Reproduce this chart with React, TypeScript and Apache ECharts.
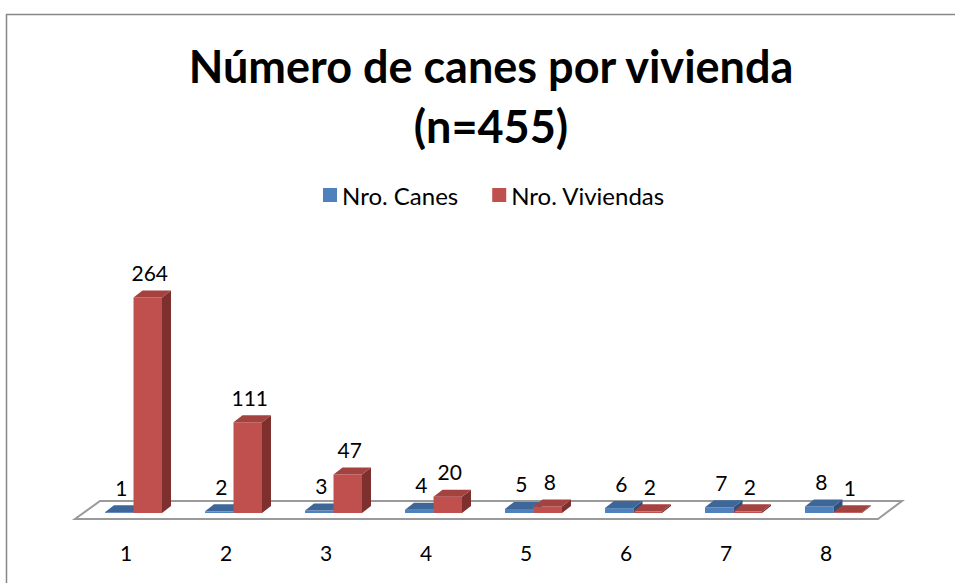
import React, { useEffect, useRef } from "react";
import * as echarts from "echarts";

const categories = ["1", "2", "3", "4", "5", "6", "7", "8"];
const canes = [1, 2, 3, 4, 5, 6, 7, 8];
const viviendas = [264, 111, 47, 20, 8, 2, 2, 1];
const seriesNames = ["Nro. Canes", "Nro. Viviendas"];
const titleText = "Número de canes por vivienda\n(n=455)";

const FONT = "Lato, 'Open Sans', sans-serif";
const DX = 9;
const DY = -7;

function makeBarRenderer(offsetFrac: number, colors: { front: string; top: string; side: string }) {
  return (params: any, api: any) => {
    const idx = api.value(0);
    const v = api.value(1);
    const base = api.coord([idx, 0]);
    const top = api.coord([idx, v]);
    const bw = api.size([1, 0])[0];
    const w = 0.285 * bw;
    const x0 = base[0] + offsetFrac * bw;
    const y0 = base[1];
    const y1 = top[1];
    return {
      type: "group",
      children: [
        {
          type: "polygon",
          shape: { points: [[x0, y0], [x0 + w, y0], [x0 + w, y1], [x0, y1]] },
          style: { fill: colors.front },
        },
        {
          type: "polygon",
          shape: { points: [[x0 + w, y0], [x0 + w + DX, y0 + DY], [x0 + w + DX, y1 + DY], [x0 + w, y1]] },
          style: { fill: colors.side },
        },
        {
          type: "polygon",
          shape: { points: [[x0, y1], [x0 + w, y1], [x0 + w + DX, y1 + DY], [x0 + DX, y1 + DY]] },
          style: { fill: colors.top },
        },
        {
          type: "text",
          x: x0 + w / 2 + 2,
          y: y1 + DY - 18,
          style: {
            text: String(v),
            fill: "#000",
            font: `21px ${FONT}`,
            align: "center",
            verticalAlign: "middle",
          },
        },
      ],
    };
  };
}

export default function App() {
  const ref = useRef<HTMLDivElement>(null);
  useEffect(() => {
    document.body.style.margin = "0";
    const chart = echarts.init(ref.current!, null, { renderer: "svg" });
    const option: any = {
      animation: false,
      backgroundColor: "#ffffff",
      title: {
        text: titleText,
        left: 486,
        top: 31,
        textAlign: "center",
        textStyle: {
          fontFamily: FONT,
          fontSize: 45,
          fontWeight: "bold",
          lineHeight: 60,
          color: "#000",
        },
      },
      legend: {
        top: 178,
        left: 318,
        icon: "rect",
        itemWidth: 14,
        itemHeight: 14,
        itemGap: 34,
        data: seriesNames,
        textStyle: { fontFamily: FONT, fontSize: 24, color: "#000" },
      },
      graphic: [
        {
          type: "rect",
          shape: { x: 6.5, y: 14.5, width: 1000, height: 700 },
          style: { fill: "none", stroke: "#878787", lineWidth: 1.5 },
          z: -1,
        },
      ],
      grid: { left: 76, right: 79, top: 268, bottom: 70 },
      xAxis: {
        type: "category",
        data: categories,
        axisLine: { show: false },
        axisTick: { show: false },
        axisLabel: { margin: 29, fontFamily: FONT, fontSize: 21, color: "#000" },
        splitLine: { show: false },
      },
      yAxis: {
        type: "value",
        min: 0,
        max: 300,
        show: false,
        splitLine: { show: false },
      },
      series: [
        {
          type: "custom",
          name: "floor",
          silent: true,
          z: 1,
          data: [[0, 0]],
          renderItem: (params: any, api: any) => {
            const cs = params.coordSys;
            const baseY = cs.y + cs.height;
            const fl = cs.x - 1;
            const fr = cs.x + cs.width + 2;
            const fy = baseY + 6;
            const by = baseY - 12;
            return {
              type: "polygon",
              shape: { points: [[fl, fy], [fr, fy], [fr + 24, by], [fl + 25, by]] },
              style: { fill: "#ffffff", stroke: "#9A9A9A", lineWidth: 2 },
            };
          },
        },
        {
          type: "custom",
          name: seriesNames[0],
          z: 2,
          itemStyle: { color: "#4F81BD" },
          data: canes.map((v, i) => [i, v]),
          renderItem: makeBarRenderer(-0.21, { front: "#4F81BD", top: "#3D6699", side: "#2E507A" }),
        },
        {
          type: "custom",
          name: seriesNames[1],
          z: 3,
          itemStyle: { color: "#C0504D" },
          data: viviendas.map((v, i) => [i, v]),
          renderItem: makeBarRenderer(0.075, { front: "#C0504D", top: "#A3423F", side: "#7E302E" }),
        },
      ],
    };
    chart.setOption(option);
    return () => chart.dispose();
  }, []);
  return <div ref={ref} style={{ width: 955, height: 583 }} />;
}
